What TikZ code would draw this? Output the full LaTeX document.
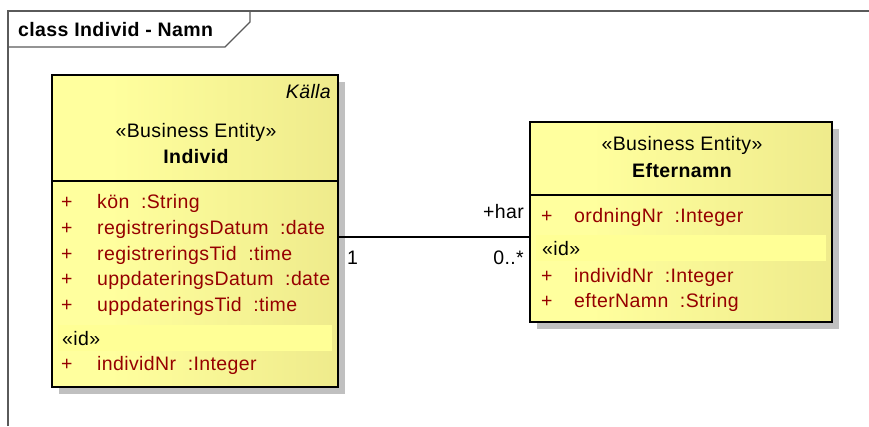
\documentclass[tikz,border=0pt]{standalone}
\usepackage{fontspec}
\setmainfont{Liberation Sans}[LetterSpace=2]
\usetikzlibrary{calc}

\definecolor{attrred}{RGB}{150,0,0}
\definecolor{shadowgray}{RGB}{192,192,192}
\definecolor{framegray}{RGB}{90,90,90}
\definecolor{idband}{RGB}{255,255,150}
\definecolor{eaA}{RGB}{238,232,140}
\definecolor{eaB}{RGB}{255,255,158}
\definecolor{eaC}{RGB}{228,222,128}
\pgfdeclarehorizontalshading{entityfill}{100bp}{%
  color(0bp)=(eaA); color(6bp)=(eaB); color(35bp)=(eaB); color(100bp)=(eaC)}

\newcommand{\umlsize}{\fontsize{19.5}{22}\selectfont}

\tikzset{
  classbox/.style={draw=black, line width=1.8pt, shading=entityfill, inner sep=0pt},
  sepline/.style={black, line width=1.6pt},
  txt/.style={inner sep=0pt, anchor=base west, font=\umlsize},
  attr/.style={txt, text=attrred},
  frameline/.style={framegray, line width=1.3pt},
}

\begin{document}
\begin{tikzpicture}[x=1pt, y=-1pt]
\useasboundingbox (0,0) rectangle (869,426);

% diagram frame with name tab
\draw[frameline] (8,426) -- (8,11) -- (869,11);
\draw[frameline] (8,47) -- (225,47) -- (250,22) -- (250,11);
\node[txt, font=\umlsize\bfseries] (title) at (18,36) {class Individ - Namn};

% ---- class Individ ----
\fill[shadowgray] (59,82) rectangle (345,394);
\node[classbox, minimum width=286pt, minimum height=312pt] (ind) at (195,231) {};
\draw[sepline] (ind.west |- 0,181) -- (ind.east |- 0,181);
\fill[idband] (58,325) rectangle (332,351);

\node[txt, anchor=base east, font=\umlsize\itshape] (indsrc) at (331,98) {Källa};
\node[txt, anchor=base] (indst) at (196,137) {«Business Entity»};
\node[txt, anchor=base, font=\umlsize\bfseries] (indname) at (196,163) {Individ};

\foreach \y/\t [count=\i] in {208/{kön\ \ :String},
                              234/{registreringsDatum\ \ :date},
                              260/{registreringsTid\ \ :time},
                              285/{uppdateringsDatum\ \ :date},
                              311/{uppdateringsTid\ \ :time}} {
  \node[attr] (indp\i) at (61,\y) {+};
  \node[attr] (inda\i) at (97,\y) {\t};
}
\node[txt] (indid) at (62,345) {«id»};
\node[attr] (indp6) at (61,370) {+};
\node[attr] (inda6) at (97,370) {individNr\ \ :Integer};

% ---- class Efternamn ----
\fill[shadowgray] (537,129) rectangle (839,329);
\node[classbox, minimum width=302pt, minimum height=200pt] (eft) at (681,222) {};
\draw[sepline] (eft.west |- 0,195) -- (eft.east |- 0,195);
\fill[idband] (536,235) rectangle (826,261);

\node[txt, anchor=base] (eftst) at (682,150) {«Business Entity»};
\node[txt, anchor=base, font=\umlsize\bfseries] (eftname) at (682,177) {Efternamn};

\node[attr] (eftp1) at (541,222) {+};
\node[attr] (efta1) at (574,222) {ordningNr\ \ :Integer};
\node[txt] (eftid) at (542,255) {«id»};
\node[attr] (eftp2) at (541,282) {+};
\node[attr] (efta2) at (574,282) {individNr\ \ :Integer};
\node[attr] (eftp3) at (541,307) {+};
\node[attr] (efta3) at (574,307) {efterNamn\ \ :String};

% ---- association ----
\draw[black, line width=1.5pt] (ind.east |- 0,237) -- (eft.west |- 0,237);
\node[txt, anchor=base east] (role) at (524,218) {+har};
\node[txt] (mult1) at (347,264) {1};
\node[txt, anchor=base east] (mult2) at (524,264) {0..*};
\end{tikzpicture}
\end{document}
